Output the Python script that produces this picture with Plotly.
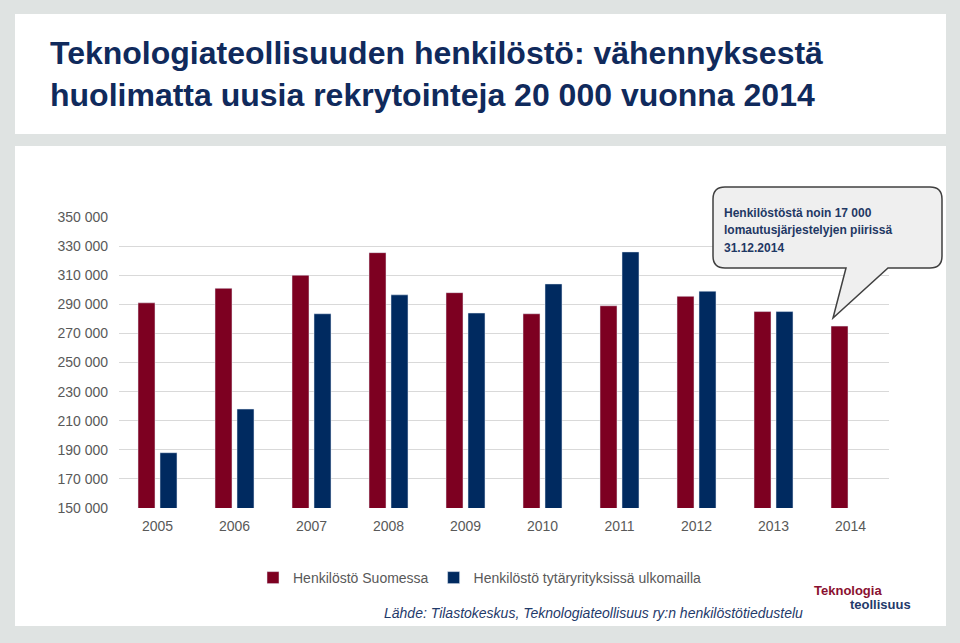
import plotly.graph_objects as go

# ---------------- data ----------------
years = ["2005", "2006", "2007", "2008", "2009", "2010", "2011", "2012", "2013", "2014"]
finland = [291000, 301000, 310000, 325500, 298000, 283500, 289000, 295500, 285000, 275000]
abroad = [188000, 218000, 283500, 296500, 284000, 304000, 326000, 299000, 285000, None]
series_names = ["Henkilöstö Suomessa", "Henkilöstö tytäryrityksissä ulkomailla"]
y_tickvals = [150000, 170000, 190000, 210000, 230000, 250000, 270000, 290000, 310000, 330000, 350000]
y_ticktext = ["150 000", "170 000", "190 000", "210 000", "230 000", "250 000",
              "270 000", "290 000", "310 000", "330 000", "350 000"]
title_text = ("Teknologiateollisuuden henkilöstö: vähennyksestä<br>"
              "huolimatta uusia rekrytointeja 20 000 vuonna 2014")
callout_lines = ["Henkilöstöstä noin 17 000", "lomautusjärjestelyjen piirissä", "31.12.2014"]
source_text = "Lähde: Tilastokeskus, Teknologiateollisuus ry:n henkilöstötiedustelu"
logo_top, logo_bottom = "Teknologia", "teollisuus"

# ---------------- style ----------------
W, H = 960, 643
ML, MR, MT, MB = 119, 71, 217, 135
PW, PH = W - ML - MR, H - MT - MB
RED = "#7d0021"
BLUE = "#002a60"
NAVY = "#102a5c"
GRAY_TXT = "#595959"
BG = "#dfe3e2"
FONT = "Liberation Sans, Arial, sans-serif"


def xp(px):
    return (px - ML) / PW


def yp(py):
    return (H - MB - py) / PH


fig = go.Figure()
fig.add_trace(go.Bar(x=years, y=finland, name=series_names[0], marker_color=RED))
fig.add_trace(go.Bar(x=years, y=abroad, name=series_names[1], marker_color=BLUE))

shapes = []
# white panels
shapes.append(dict(type="rect", xref="paper", yref="paper", layer="below",
                   x0=xp(15), x1=xp(946), y0=yp(134), y1=yp(14),
                   fillcolor="white", line=dict(width=0)))
shapes.append(dict(type="rect", xref="paper", yref="paper", layer="below",
                   x0=xp(15), x1=xp(946), y0=yp(626), y1=yp(146),
                   fillcolor="white", line=dict(width=0)))

# callout bubble
L, R, T, B, r = 713, 942, 187, 268, 12
pts = [("M", (L + r, T)), ("L", (R - r, T)), ("Q", (R, T), (R, T + r)),
       ("L", (R, B - r)), ("Q", (R, B), (R - r, B)),
       ("L", (888, B)), ("L", (833, 318)), ("L", (846, B)),
       ("L", (L + r, B)), ("Q", (L, B), (L, B - r)),
       ("L", (L, T + r)), ("Q", (L, T), (L + r, T))]
path = ""
for p in pts:
    cmd = p[0]
    coords = " ".join(f"{xp(c[0]):.5f},{yp(c[1]):.5f}" for c in p[1:])
    path += f"{cmd}{coords} "
path += "Z"
shapes.append(dict(type="path", xref="paper", yref="paper", layer="above", path=path,
                   fillcolor="#efefef", line=dict(color="#404040", width=1.5)))

annotations = [
    dict(text=title_text, xref="paper", yref="paper", x=xp(48), y=yp(33),
         xanchor="left", yanchor="top", align="left", showarrow=False,
         font=dict(family=FONT, size=32, color=NAVY, weight="bold")),
    dict(text=source_text, xref="paper", yref="paper", x=xp(593), y=yp(613),
         xanchor="center", yanchor="middle", showarrow=False,
         font=dict(family=FONT, size=14, color="#1f3a6a", style="italic")),
    dict(text=logo_top, xref="paper", yref="paper", x=xp(812), y=yp(590),
         xanchor="left", yanchor="middle", showarrow=False,
         font=dict(family=FONT, size=13, color="#8a1030", weight="bold")),
    dict(text=logo_bottom, xref="paper", yref="paper", x=xp(913), y=yp(604),
         xanchor="right", yanchor="middle", showarrow=False,
         font=dict(family=FONT, size=13, color="#1f3a6a", weight="bold")),
]
for i, line in enumerate(callout_lines):
    annotations.append(dict(text=line, xref="paper", yref="paper", x=xp(722),
                            y=yp(213 + 17.5 * i), xanchor="left", yanchor="middle",
                            showarrow=False,
                            font=dict(family=FONT, size=12, color="#1f3864", weight="bold")))

fig.update_layout(
    width=W, height=H, autosize=False,
    margin=dict(l=ML, r=MR, t=MT, b=MB, pad=0),
    paper_bgcolor=BG, plot_bgcolor="white",
    barmode="group", bargap=0.429, bargroupgap=0.227,
    font=dict(family=FONT, size=14, color=GRAY_TXT),
    showlegend=True,
    legend=dict(orientation="h", x=xp(253), y=yp(578), xanchor="left", yanchor="middle",
                bgcolor="rgba(0,0,0,0)", font=dict(size=14, color=GRAY_TXT),
                itemclick=False),
    shapes=shapes,
    annotations=annotations,
)
fig.update_xaxes(type="category", showgrid=False, showline=False, ticks="",
                 tickfont=dict(size=14, color=GRAY_TXT), ticklabelstandoff=8)
fig.update_yaxes(range=[150000, 350000], tickvals=y_tickvals, ticktext=y_ticktext,
                 showgrid=True, gridcolor="#d9d9d9", gridwidth=1, zeroline=False,
                 showline=False, ticks="", tickfont=dict(size=14, color=GRAY_TXT),
                 ticklabelstandoff=10)

fig.write_html("out.html", config=dict(displayModeBar=False),
               post_script="document.body.style.margin='0';document.body.style.overflow='hidden';")
